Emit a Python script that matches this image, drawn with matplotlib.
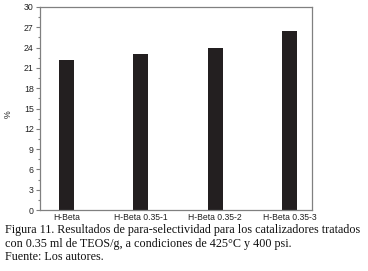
import matplotlib
matplotlib.use('Agg')
import matplotlib.pyplot as plt
from matplotlib.ticker import MultipleLocator

# Datos
catalizadores = ['H-Beta', 'H-Beta 0.35-1', 'H-Beta 0.35-2', 'H-Beta 0.35-3']
selectividad = [22.1, 23.0, 23.9, 26.5]

fig = plt.figure(figsize=(3.68, 2.71), dpi=100)
ax = fig.add_axes([40 / 368, 1 - 210 / 271, 272 / 368, 203 / 271])

x = range(len(catalizadores))
ax.bar(x, selectividad, width=0.2, color='#231f20')

ax.set_xlim(-0.353, 3.30)
ax.set_ylim(0, 30)
ax.yaxis.set_major_locator(MultipleLocator(3))
ax.yaxis.set_minor_locator(MultipleLocator(1.5))
ax.set_xticks(list(x))
ax.set_xticklabels(catalizadores)

for s in ax.spines.values():
    s.set_color('#808080')
    s.set_linewidth(0.9)

ax.tick_params(axis='y', which='major', length=3, width=0.8, color='#808080',
               labelsize=6.3, pad=1.5, labelcolor='#222222')
ax.tick_params(axis='y', which='minor', length=1.8, width=0.8, color='#808080')
ax.tick_params(axis='x', length=0, labelsize=6.2, pad=2.5, labelcolor='#222222')
for lbl in ax.get_xticklabels() + ax.get_yticklabels():
    lbl.set_family('Liberation Sans')

ax.set_ylabel('%', fontsize=6.3, family='Liberation Sans', color='#222222')
ax.yaxis.set_label_coords(-0.1, 0.47)

caption = ['Figura 11. Resultados de para-selectividad para los catalizadores tratados',
           'con 0.35 ml de TEOS/g, a condiciones de 425\u00b0C y 400 psi.',
           'Fuente: Los autores.']
for i, linea in enumerate(caption):
    fig.text(5 / 368, 1 - (230.5 + i * 13.5) / 271, linea, fontsize=8.7,
             family='Liberation Serif', va='center', ha='left', color='#111111')

fig.savefig('out.png', dpi=100)
